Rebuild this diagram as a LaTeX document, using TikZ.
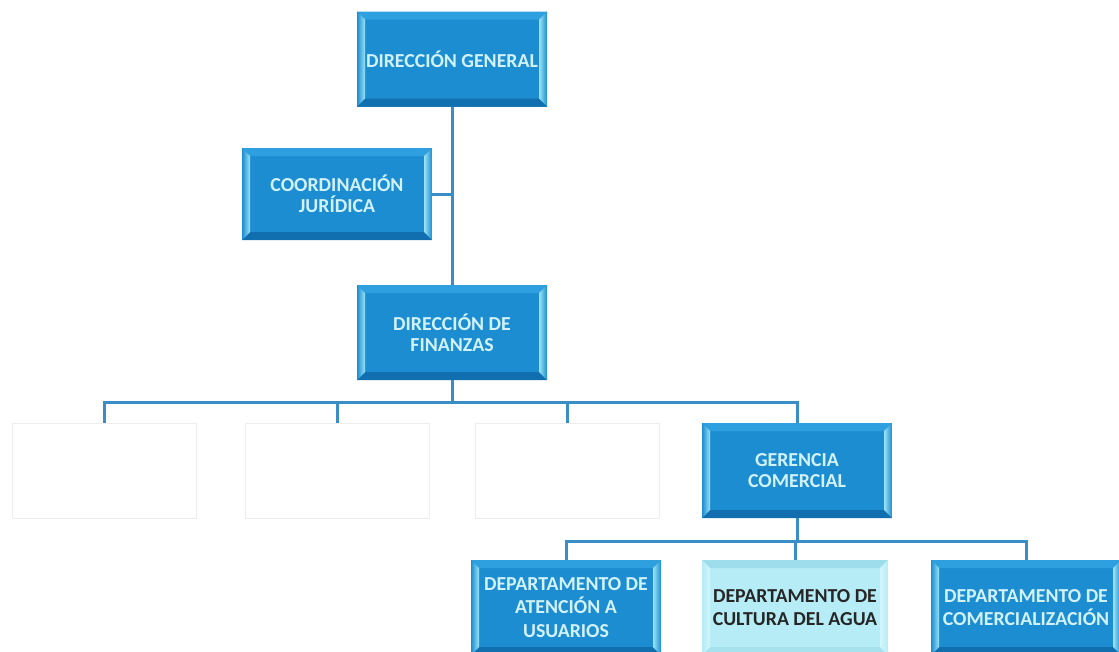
\documentclass[tikz,border=0pt]{standalone}
\usepackage{fontspec}
\setmainfont{Carlito}
\definecolor{boxface}{HTML}{1C8DD0}
\definecolor{boxtop}{HTML}{2EA0E0}
\definecolor{boxbottom}{HTML}{126FAF}
\definecolor{boxhi}{HTML}{9BE3F7}
\definecolor{boxtext}{HTML}{D2F2FB}
\definecolor{paleface}{HTML}{B6ECF5}
\definecolor{paletop}{HTML}{9EDDEB}
\definecolor{palebottom}{HTML}{A6E2EE}
\definecolor{palehi}{HTML}{D2F6FB}
\definecolor{linkblue}{HTML}{3A8EC6}
\begin{document}
\begin{tikzpicture}[x=1pt,y=-1pt,
  link/.style={draw=linkblue,line width=3pt,line join=miter},
  % bevelled box: face colour plus four edge facets
  bevel/.style n args={4}{path picture={
    \def\bw{8pt}
    \fill[#1] (path picture bounding box.north west) -- (path picture bounding box.north east)
      -- ([shift={(-\bw,-\bw)}]path picture bounding box.north east)
      -- ([shift={(\bw,-\bw)}]path picture bounding box.north west) -- cycle;
    \fill[#2] (path picture bounding box.south west) -- (path picture bounding box.south east)
      -- ([shift={(-\bw,\bw)}]path picture bounding box.south east)
      -- ([shift={(\bw,\bw)}]path picture bounding box.south west) -- cycle;
    \shade[left color=#4,right color=#3] (path picture bounding box.north west)
      -- ([shift={(\bw,-\bw)}]path picture bounding box.north west)
      -- ([shift={(\bw,\bw)}]path picture bounding box.south west)
      -- (path picture bounding box.south west) -- cycle;
    \shade[left color=#3,right color=#4] (path picture bounding box.north east)
      -- ([shift={(-\bw,-\bw)}]path picture bounding box.north east)
      -- ([shift={(-\bw,\bw)}]path picture bounding box.south east)
      -- (path picture bounding box.south east) -- cycle;
  }},
  orgbox/.style={rectangle,minimum width=190pt,minimum height=95pt,inner sep=0pt,
    fill=boxface,text=boxtext,align=center,
    font=\bfseries\fontsize{19.8}{21.5}\selectfont,
    bevel={boxtop}{boxbottom}{boxhi}{boxface}},
  palebox/.style={orgbox,fill=paleface,text=black!85,
    bevel={paletop}{palebottom}{palehi}{paleface}},
  deptfont/.style={font=\bfseries\fontsize{19.8}{23.5}\selectfont},
  emptybox/.style={rectangle,minimum width=184pt,minimum height=95pt,draw=black!7,line width=0.8pt}
]
\useasboundingbox[fill=white] (0,0) rectangle (1119,651);

% upper levels
\node[orgbox] (dg) at (452,59) {DIRECCIÓN GENERAL};
\node[orgbox,minimum height=92pt] (coord) at (337,194) {COORDINACIÓN\\JURÍDICA};
\node[orgbox] (fin) at (452,332.5) {DIRECCIÓN DE\\FINANZAS};

% third level
\node[emptybox] (e1) at (104,470.5) {};
\node[emptybox] (e2) at (337,470.5) {};
\node[emptybox] (e3) at (567,470.5) {};
\node[orgbox] (gc) at (797,470.5) {GERENCIA\\COMERCIAL};

% departments
\node[orgbox,deptfont] (d1) at (566,607.5) {DEPARTAMENTO DE\\ATENCIÓN A\\USUARIOS};
\node[palebox,deptfont,minimum width=186pt] (d2) at (795,607.5) {DEPARTAMENTO DE\\CULTURA DEL AGUA};
\node[orgbox,deptfont] (d3) at (1026,607.5) {DEPARTAMENTO DE\\COMERCIALIZACIÓN};

% connectors
\coordinate (busA) at (452,402);
\coordinate (busB) at (797,541);
\draw[link] (dg.south) -- (fin.north);
\draw[link] (coord.east) -- (coord.east -| dg.south);
\draw[link] (fin.south) -- (busA);
\draw[link] (e1.north) |- (gc.north |- busA) -- (gc.north);
\draw[link] (e2.north) -- (e2.north |- busA);
\draw[link] (e3.north) -- (e3.north |- busA);
\draw[link] (gc.south) -- (busB);
\draw[link] (d1.north) |- (busB) -| (d3.north);
\draw[link] (d2.north) -- (d2.north |- busB);
\end{tikzpicture}
\end{document}
